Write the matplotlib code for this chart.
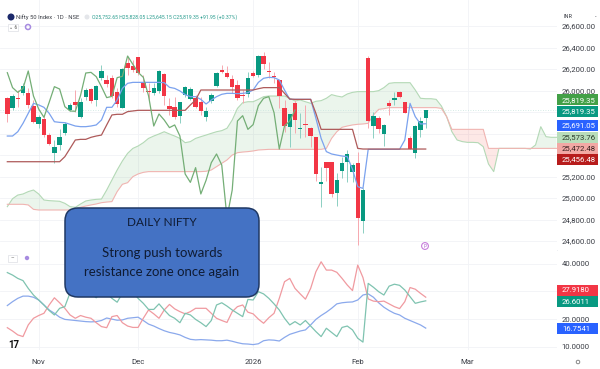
import numpy as np
import matplotlib
matplotlib.use("Agg")
import matplotlib.pyplot as plt
from matplotlib.patches import FancyBboxPatch, Circle, Rectangle

# Daily candles
opens = [25927, 25834, 25931, 25974, 25974, 25856, 25686, 25735, 25583, 25422, 25493, 25608, 25819, 25893, 25751, 25937,
         26011, 25909, 26120, 26098, 26117, 25986, 25834, 26253, 26228, 26315, 26076, 25996, 25974, 25993, 26151, 25856,
         25850, 25763, 25962, 25921, 25934, 25893, 25757, 25903, 26045, 26194, 26160, 26107, 26052, 25952, 25965, 26163,
         26144, 26321, 26179, 26129, 26098, 25834, 25658, 25887, 25639, 25686, 25648, 25565, 25134, 25332, 25332, 25050,
         25249, 25335, 25239, 25323, 24787, 26300, 25667, 25745, 25596, 25881, 25912, 25990, 25896, 25562, 25416, 25630,
         25741]
highs = [25943, 25965, 26005, 26067, 26020, 25912, 25772, 25772, 25602, 25540, 25639, 25710, 25881, 26005, 25928, 26020,
         26020, 26051, 26237, 26144, 26144, 26020, 26207, 26315, 26284, 26315, 26144, 26067, 26067, 26191, 26160, 25928,
         25943, 25896, 26042, 26030, 25958, 25943, 25850, 25974, 26176, 26237, 26228, 26144, 26098, 26005, 26176, 26185,
         26330, 26361, 26268, 26176, 26098, 25912, 25782, 25912, 25788, 25866, 25658, 25565, 25292, 25332, 25332, 25236,
         25385, 25447, 25323, 25432, 25090, 26321, 25803, 25763, 25689, 25912, 25990, 25996, 25896, 25577, 25680, 25757,
         25819]
lows = [25710, 25819, 25850, 25958, 25834, 25695, 25648, 25571, 25493, 25323, 25447, 25586, 25813, 25804, 25741, 25912,
        25881, 25856, 26098, 26036, 25928, 25850, 25834, 26144, 26175, 26144, 25990, 25912, 25958, 25974, 25866, 25772,
        25732, 25695, 25943, 25912, 25834, 25772, 25720, 25881, 26036, 26160, 26114, 25974, 25912, 25881, 25943, 26123,
        26129, 26197, 26114, 26067, 25834, 25617, 25478, 25602, 25555, 25571, 25478, 25162, 24914, 25162, 25013, 24929,
        25184, 25152, 25152, 24564, 24672, 25648, 25555, 25602, 25484, 25772, 25866, 25928, 25788, 25456, 25370, 25565,
        25648]
closes = [25782, 25952, 25924, 26045, 25866, 25710, 25751, 25587, 25500, 25478, 25565, 25689, 25862, 25866, 25896, 26005,
          25900, 26039, 26182, 26061, 25949, 25875, 26197, 26207, 26191, 26166, 26027, 25983, 26020, 26182, 25949, 25828,
          25751, 25890, 26036, 26014, 25850, 25810, 25807, 25955, 26163, 26169, 26129, 26036, 25934, 25946, 26120, 26132,
          26321, 26244, 26169, 26123, 25952, 25670, 25782, 25726, 25655, 25680, 25577, 25224, 25146, 25283, 25038, 25165,
          25329, 25410, 25307, 24818, 25075, 25717, 25766, 25639, 25683, 25859, 25928, 25943, 25794, 25456, 25670, 25717,
          25819]

# Ichimoku lines
tenkan = [25577, 25577, 25617, 25695, 25788, 25881, 25866, 25844, 25788, 25710, 25704, 25701, 25686, 25670, 25664, 25664,
          25670, 25680, 25726, 25844, 25844, 25912, 26020, 26067, 26076, 26076, 26076, 26076, 26076, 26076, 26073, 26030,
          26020, 25996, 25962, 25943, 25943, 25918, 25875, 25912, 25943, 25965, 25974, 25974, 25971, 25974, 25980, 26005,
          26076, 26114, 26123, 26120, 26098, 26005, 25918, 25918, 25918, 25918, 25918, 25742, 25555, 25432, 25410, 25400,
          25391, 25385, 25267, 25106, 25090, 25453, 25453, 25453, 25453, 25453, 25453, 25453, 25540, 25881, 25757, 25689,
          25691]
kijun = [25338, 25338, 25338, 25338, 25338, 25338, 25338, 25338, 25338, 25338, 25338, 25385, 25462, 25540, 25546, 25546,
         25565, 25577, 25586, 25680, 25773, 25779, 25779, 25804, 25810, 25816, 25816, 25816, 25816, 25816, 25816, 25816,
         25816, 25816, 25816, 25866, 25912, 26005, 26005, 26005, 26005, 26005, 26005, 26005, 26005, 26005, 26005, 26005,
         26017, 26027, 26027, 26027, 26027, 25974, 25921, 25918, 25918, 25918, 25918, 25788, 25639, 25639, 25639, 25639,
         25639, 25639, 25639, 25462, 25456, 25456, 25456, 25456, 25456, 25456, 25456, 25456, 25456, 25456, 25456, 25456,
         25456]
span_a = [24920, 24994, 25028, 25038, 25060, 25075, 25038, 24982, 24976, 24973, 24970, 24951, 24920, 24914, 24945, 24973,
          24982, 24988, 24991, 25075, 25168, 25261, 25345, 25416, 25462, 25484, 25515, 25555, 25577, 25596, 25617, 25596,
          25577, 25555, 25515, 25525, 25555, 25571, 25586, 25602, 25617, 25627, 25649, 25726, 25834, 25887, 25896, 25896,
          25918, 25943, 25949, 25949, 25949, 25949, 25928, 25903, 25912, 25896, 25881, 25900, 25906, 25928, 25962, 25949,
          25940, 25968, 25983, 25990, 25990, 25990, 25990, 25999, 26027, 26067, 26073, 26073, 26073, 26073, 26005, 25928,
          25924, 25924, 25918, 25856, 25757, 25617, 25540, 25525, 25518, 25518, 25515, 25478, 25317, 25246, 25462, 25462,
          25462, 25462, 25462, 25462, 25456, 25494, 25664, 25571, 25565, 25565]
span_b = [24942, 24942, 24942, 24942, 24936, 24895, 24889, 24889, 24889, 24889, 24889, 24889, 24889, 24895, 24914, 24926,
          24936, 24945, 24957, 24963, 24967, 25060, 25128, 25143, 25199, 25224, 25239, 25246, 25246, 25246, 25246, 25246,
          25246, 25246, 25246, 25246, 25246, 25246, 25249, 25261, 25292, 25323, 25354, 25400, 25422, 25428, 25432, 25438,
          25447, 25450, 25453, 25453, 25453, 25453, 25453, 25453, 25453, 25453, 25453, 25453, 25453, 25462, 25555, 25617,
          25658, 25670, 25680, 25686, 25689, 25695, 25773, 25825, 25831, 25841, 25841, 25841, 25841, 25841, 25841, 25841,
          25841, 25841, 25841, 25834, 25757, 25639, 25639, 25639, 25639, 25639, 25639, 25639, 25462, 25462, 25462, 25462,
          25462, 25462, 25462, 25462, 25462, 25462, 25462, 25462, 25462, 25462]
chikou_shift = 25

# Lower panel
di_blue = [24.9, 26.3, 27.5, 28.3, 28.3, 27.9, 26.9, 25.1, 23.3, 22.1, 20.7, 19.9, 19.7, 19.5, 19.3, 19.1, 19.0, 19.1, 19.5,
           20.4, 20.0, 19.6, 19.7, 20.3, 20.5, 20.7, 19.5, 18.2, 17.5, 16.6, 15.8, 15.2, 14.8, 14.3, 13.4, 12.7, 12.5, 12.6,
           12.5, 12.4, 12.2, 12.2, 12.4, 12.0, 11.5, 11.1, 11.0, 10.8, 11.1, 12.2, 12.5, 12.4, 12.1, 13.4, 14.5, 15.1, 15.7,
           16.1, 17.9, 19.9, 21.3, 22.5, 23.9, 25.5, 25.9, 26.1, 26.2, 26.9, 28.7, 29.1, 27.9, 25.9, 24.3, 23.1, 22.1, 21.5,
           20.3, 19.5, 18.7, 17.9, 16.75]
di_red = [16.9, 15.7, 14.3, 13.7, 17.9, 20.3, 21.3, 22.1, 25.1, 27.7, 25.9, 23.9, 21.5, 20.3, 21.3, 20.7, 20.3, 18.7, 17.3,
          16.9, 20.9, 21.3, 18.7, 17.5, 17.0, 17.0, 20.3, 23.3, 21.9, 20.3, 23.3, 25.3, 23.7, 22.7, 21.9, 22.7, 23.9, 23.9,
          23.9, 22.1, 20.3, 19.5, 18.8, 22.7, 24.5, 25.1, 22.5, 21.9, 20.0, 18.5, 20.5, 22.1, 27.5, 33.5, 34.7, 31.1, 29.1,
          27.2, 31.1, 37.1, 40.7, 37.7, 37.7, 36.9, 34.7, 32.3, 30.3, 39.5, 35.0, 27.3, 26.5, 26.3, 26.5, 25.5, 24.5, 23.8,
          26.3, 31.4, 30.8, 29.3, 27.92]
di_green = [36.8, 35.9, 34.7, 33.9, 31.1, 28.7, 26.9, 25.1, 23.1, 21.5, 23.9, 24.5, 29.5, 31.7, 32.3, 31.1, 29.3, 27.7, 29.9,
            29.3, 27.5, 26.1, 29.3, 30.5, 29.9, 27.5, 25.7, 23.5, 23.5, 25.5, 23.3, 21.3, 20.3, 18.7, 22.1, 21.5, 19.9, 18.7,
            17.3, 19.5, 25.1, 25.9, 24.7, 23.3, 22.1, 20.9, 27.1, 26.9, 29.9, 29.1, 27.5, 25.5, 23.3, 20.3, 17.9, 19.1, 17.9,
            19.5, 17.5, 15.5, 13.7, 16.7, 15.2, 13.7, 17.0, 17.5, 16.1, 13.1, 11.7, 32.9, 31.5, 29.9, 28.7, 31.9, 32.6, 32.2,
            30.5, 28.1, 25.7, 26.2, 26.6]

price_ticks = [24600, 24800, 25000, 25200, 25400, 25600, 25800, 26000, 26200, 26400, 26600]
price_labels = ["24,600.00", "24,800.00", "25,000.00", "25,200.00", "", "", "", "26,000.00", "26,200.00", "26,400.00", "26,600.00"]
di_ticks = [10, 20, 30, 40]
di_labels = ["10.0000", "20.0000", "", "40.0000"]
month_pos = [6, 25, 47, 67, 88]
month_labels = ["Nov", "Dec", "2026", "Feb", "Mar"]

RED = "#F23645"
TEAL = "#089981"
GRID = "#F1F3F6"
plt.rcParams["font.family"] = ["Roboto", "DejaVu Sans"]

W, H = 600, 369
fig = plt.figure(figsize=(W / 100, H / 100), dpi=100, facecolor="white")
ax = fig.add_axes([0, 1 - 250 / H, 557 / W, 250 / H])
ax2 = fig.add_axes([0, 1 - 350 / H, 557 / W, 100 / H])

xlim = (-1.4, 105.1)
idx = np.arange(len(closes))
o, h, l, c = map(np.array, (opens, highs, lows, closes))
up = c >= o
cols = np.where(up, TEAL, RED)

# cloud
fx = np.arange(len(span_a))
a, b = np.array(span_a), np.array(span_b)
ax.fill_between(fx, a, b, where=a >= b, interpolate=True, color="#43A047", alpha=0.10, lw=0)
ax.fill_between(fx, a, b, where=a < b, interpolate=True, color="#F44336", alpha=0.12, lw=0)
ax.plot(fx, a, color="#B4D9B6", lw=0.8)
ax.plot(fx, b, color="#F0B4B1", lw=0.8)

# wicks and bodies
wick_cols = np.where(up, "#8CCFC2", "#F7A8AF")
ax.vlines(idx, l, h, colors=wick_cols, lw=0.7, zorder=2)
ax.bar(idx, np.maximum(np.abs(c - o), 8), bottom=np.minimum(o, c), width=0.85, color=cols, lw=0, zorder=3)

ax.plot(idx, tenkan, color="#7BA2EE", lw=0.9, zorder=4)
ax.plot(idx, kijun, color="#AE5A5A", lw=0.9, zorder=4)
ax.plot(idx[:-chikou_shift], c[chikou_shift:], color="#74AE76", lw=0.9, zorder=4)
ax.axhline(closes[-1], color="#C8E5DE", lw=0.6, ls=(0, (1, 2)), zorder=1)

ax.set_xlim(xlim)
ax.set_ylim(24517, 26842)
ax.set_yticks(price_ticks)
ax.set_yticklabels(price_labels)

ax2.plot(idx, di_blue, color="#8BA9EC", lw=0.9)
ax2.plot(idx, di_red, color="#F09AA0", lw=0.9)
ax2.plot(idx, di_green, color="#7FC3B0", lw=0.9)
ax2.set_xlim(xlim)
ax2.set_ylim(8.85, 44.95)
ax2.set_yticks(di_ticks)
ax2.set_yticklabels(di_labels)
ax2.set_xticks(month_pos)
ax2.set_xticklabels(month_labels)

for a_ in (ax, ax2):
    a_.yaxis.tick_right()
    a_.tick_params(axis="both", length=0, labelsize=5.6, labelcolor="#3A3D45", pad=3.4)
    a_.grid(True, color=GRID, lw=0.6)
    a_.set_axisbelow(True)
    for s in a_.spines.values():
        s.set_visible(False)
ax.set_xticks(month_pos)
ax.tick_params(axis="x", labelbottom=False)
ax2.tick_params(axis="x", pad=6.5)
ax.spines["bottom"].set_visible(True)
ax.spines["bottom"].set_color("#EEF0F3")
ax.spines["bottom"].set_linewidth(0.7)

# overlay in pixel coordinates for annotations and tags
ov = fig.add_axes([0, 0, 1, 1], zorder=10)
ov.set_xlim(0, W)
ov.set_ylim(H, 0)
ov.axis("off")
ov.patch.set_alpha(0)

ov.add_patch(FancyBboxPatch((71, 214), 182, 77, boxstyle="round,pad=6,rounding_size=13",
                            fc="#4472C4", ec="#1F3864", lw=1.1))
box_col = "#0F1B33"
ov.text(162, 223, "DAILY NIFTY", family="Lato", fontsize=8.5, color=box_col, ha="center", va="center")
ov.text(162, 253, "Strong push towards", family="Lato", fontsize=9.5, color=box_col, ha="center", va="center")
ov.text(162, 272, "resistance zone once again", family="Lato", fontsize=9.5, color=box_col, ha="center", va="center")

# price tags
tags = [(99.7, "25,819.35", "#43A047", "white"), (111, "25,819.35", TEAL, "white"), (125, "25,691.05", "#2962FF", "white"),
        (137, "25,573.76", "#B9DDBB", "#2A3A2A"), (148, "25,472.48", "#F2A8A4", "#3A2020"), (159, "25,456.48", "#B71C1C", "white"),
        (290, "27.9180", RED, "white"), (301.7, "26.6011", TEAL, "white"), (328.7, "16.7541", "#2962FF", "white")]
for y, txt, col, tc in tags:
    ov.add_patch(Rectangle((557, y - 5.5), 41, 11, fc=col, ec="none"))
    ov.text(562, y, txt, fontsize=5.6, color=tc, ha="left", va="center")

# header legend
ov.add_patch(Circle((11, 17), 3.5, fc="#1C2A6B", ec="none"))
ov.text(16, 17, "Nifty 50 Index · 1D · NSE", fontsize=4.2, color="#3A3D45", va="center")
ov.add_patch(Circle((87, 17), 2.5, fc="#E4E6EA", ec="none"))
ov.text(92.5, 17, "O25,752.65 H25,828.05 L25,645.15 C25,819.35 +91.95 (+0.37%)", fontsize=3.7, color="#2A9D8F", va="center")
ov.add_patch(Rectangle((8, 24), 10, 7, fc="white", ec="#DDDFE4", lw=0.5))
ov.text(13, 27.5, "⌄ 6", fontsize=3.5, color="#555555", ha="center", va="center")
ov.add_patch(Circle((28, 27), 2.5, fc="none", ec="#A78BE0", lw=1.1))
ov.add_patch(Rectangle((8, 254.5), 9, 7, fc="white", ec="#DDDFE4", lw=0.5))
ov.text(12.5, 258, "–", fontsize=4, color="#555555", ha="center", va="center")
ov.add_patch(Circle((27, 258), 2.2, fc="#A78BE0", ec="none"))
ov.text(563, 17, "INR", fontsize=4, color="#3A3D45", va="center")
ov.text(595, 17, "-", fontsize=4, color="#3A3D45", va="center")
ov.add_patch(Circle((425, 246), 3.4, fc="white", ec="#C77DDB", lw=0.8))
ov.text(425, 246, "P", fontsize=3.5, color="#B060D0", ha="center", va="center")
ov.add_patch(Circle((578, 362), 1.8, fc="none", ec="#777777", lw=0.6))
ov.text(13.5, 345, "17", fontsize=7, fontweight="bold", color="#111111", ha="center", va="center")

fig.savefig("out.png", dpi=100)
